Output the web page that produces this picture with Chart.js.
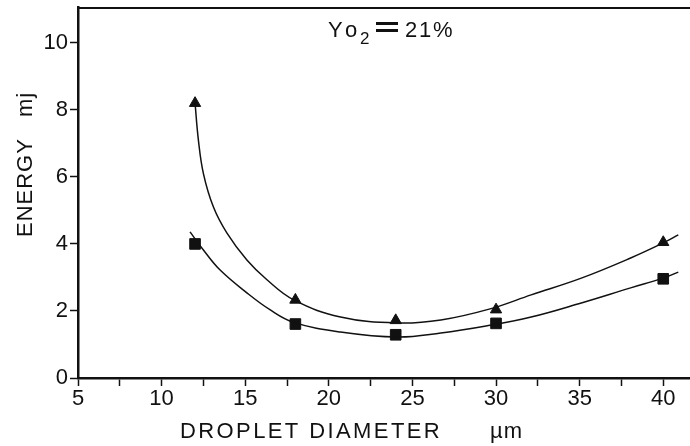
<!DOCTYPE html>
<html>
<head>
<meta charset="utf-8">
<script src="https://cdn.jsdelivr.net/npm/chart.js@4.4.1/dist/chart.umd.min.js"></script>
<style>
  html, body { margin: 0; padding: 0; background: #fff; }
  #wrap { width: 690px; height: 446px; }
</style>
</head>
<body>
<div id="wrap"><canvas id="energyChart"></canvas></div>
<script>
// measured points (droplet diameter um, energy mj)
const diameters = [12, 18, 24, 30, 40];
const triangleEnergy = [8.2, 2.33, 1.72, 2.04, 4.05];
const squareEnergy = [4.0, 1.61, 1.29, 1.63, 2.96];

// fitted curves
const triCurveX = [12.0, 12.2, 12.5, 13.1, 13.9, 15.1, 16.3, 17.9, 20.7, 24.1, 26.7, 29.7, 32.1, 35.1, 38.05, 40.0, 40.9];
const triCurveY = [8.2, 7.1, 6.1, 5.1, 4.33, 3.52, 2.93, 2.33, 1.82, 1.64, 1.73, 2.07, 2.48, 2.98, 3.58, 4.03, 4.27];
const sqCurveX = [11.7, 12.5, 13.5, 15.1, 16.5, 17.9, 20.7, 24.1, 26.7, 29.4, 32.1, 35.1, 38.05, 40.0, 40.9];
const sqCurveY = [4.36, 3.82, 3.22, 2.54, 2.03, 1.66, 1.37, 1.22, 1.34, 1.55, 1.82, 2.24, 2.69, 2.98, 3.16];

const yTicks = [0, 2, 4, 6, 8, 10];
const xTickLabels = [5, 10, 15, 20, 25, 30, 35, 40];

const ink = '#111';
const font = 'Liberation Sans, Arial, Helvetica, sans-serif';

function toXY(xs, ys) {
  return xs.map((x, i) => ({ x: x, y: ys[i] }));
}

// top frame line, axis titles and the Yo2 note
const decorPlugin = {
  id: 'decor',
  afterDraw(chart) {
    const { ctx, chartArea } = chart;
    ctx.save();
    ctx.strokeStyle = ink;
    ctx.lineWidth = 2;
    ctx.beginPath();
    ctx.moveTo(chartArea.left, chartArea.top + 1);
    ctx.lineTo(chartArea.right, chartArea.top + 1);
    ctx.stroke();

    ctx.fillStyle = ink;
    ctx.textBaseline = 'alphabetic';
    // Yo2 = 21%
    ctx.font = '22px ' + font;
    ctx.fillText('Y', 328, 37);
    ctx.fillText('o', 345, 37);
    ctx.font = '17px ' + font;
    ctx.fillText('2', 360, 44);
    ctx.fillRect(376, 22, 22, 3);
    ctx.fillRect(376, 29, 22, 3);
    ctx.font = '22px ' + font;
    ctx.fillText('2', 405, 37);
    ctx.fillText('1', 419, 37);
    ctx.fillText('%', 433, 37);

    // x title
    ctx.letterSpacing = '2.4px';
    ctx.fillText('DROPLET DIAMETER', 180, 438);
    ctx.letterSpacing = '1px';
    ctx.fillText('\u00b5m', 490, 438);

    // y title
    ctx.translate(32, 237);
    ctx.rotate(-Math.PI / 2);
    ctx.fillText('ENERGY', 0, 0);
    ctx.fillText('mj', 120, 0);
    ctx.restore();
  }
};

new Chart(document.getElementById('energyChart'), {
  type: 'scatter',
  data: {
    datasets: [
      {
        label: 'triangle fit',
        data: toXY(triCurveX, triCurveY),
        showLine: true,
        borderColor: ink,
        borderWidth: 1.5,
        pointRadius: 0,
        tension: 0.4
      },
      {
        label: 'square fit',
        data: toXY(sqCurveX, sqCurveY),
        showLine: true,
        borderColor: ink,
        borderWidth: 1.5,
        pointRadius: 0,
        tension: 0.4
      },
      {
        label: 'triangles',
        data: toXY(diameters, triangleEnergy),
        pointStyle: 'triangle',
        pointRadius: 6.5,
        backgroundColor: ink,
        borderColor: ink,
        borderWidth: 1
      },
      {
        label: 'squares',
        data: toXY(diameters, squareEnergy),
        pointStyle: 'rect',
        pointRadius: 7.5,
        backgroundColor: ink,
        borderColor: ink,
        borderWidth: 1
      }
    ]
  },
  options: {
    responsive: true,
    maintainAspectRatio: false,
    animation: false,
    layout: { autoPadding: false, padding: { top: 7, right: 0, bottom: 0, left: 0 } },
    plugins: {
      legend: { display: false },
      tooltip: { enabled: false }
    },
    scales: {
      x: {
        type: 'linear',
        min: 5,
        max: 41.6,
        afterFit(scale) {
          scale.height = 68;
          scale.paddingRight = 0;
          scale.paddingLeft = 0;
        },
        ticks: {
          stepSize: 2.5,
          includeBounds: false,
          autoSkip: false,
          maxRotation: 0,
          color: ink,
          padding: 0,
          font: { size: 22, family: font },
          callback: v => xTickLabels.includes(v) ? String(v) : ''
        },
        grid: {
          drawOnChartArea: false,
          color: ink,
          tickLength: 8,
          tickWidth: 1.5
        },
        border: { color: ink, width: 2.5 }
      },
      y: {
        min: 0,
        max: 11.07,
        afterFit(scale) {
          scale.width = 78;
          scale.paddingTop = 0;
          scale.paddingBottom = 0;
        },
        afterBuildTicks(scale) {
          scale.ticks = yTicks.map(v => ({ value: v }));
        },
        ticks: {
          color: ink,
          padding: 2,
          font: { size: 22, family: font }
        },
        grid: {
          drawOnChartArea: false,
          color: ink,
          tickLength: 8,
          tickWidth: 1.5
        },
        border: { color: ink, width: 2.5 }
      }
    }
  },
  plugins: [decorPlugin]
});
</script>
</body>
</html>
